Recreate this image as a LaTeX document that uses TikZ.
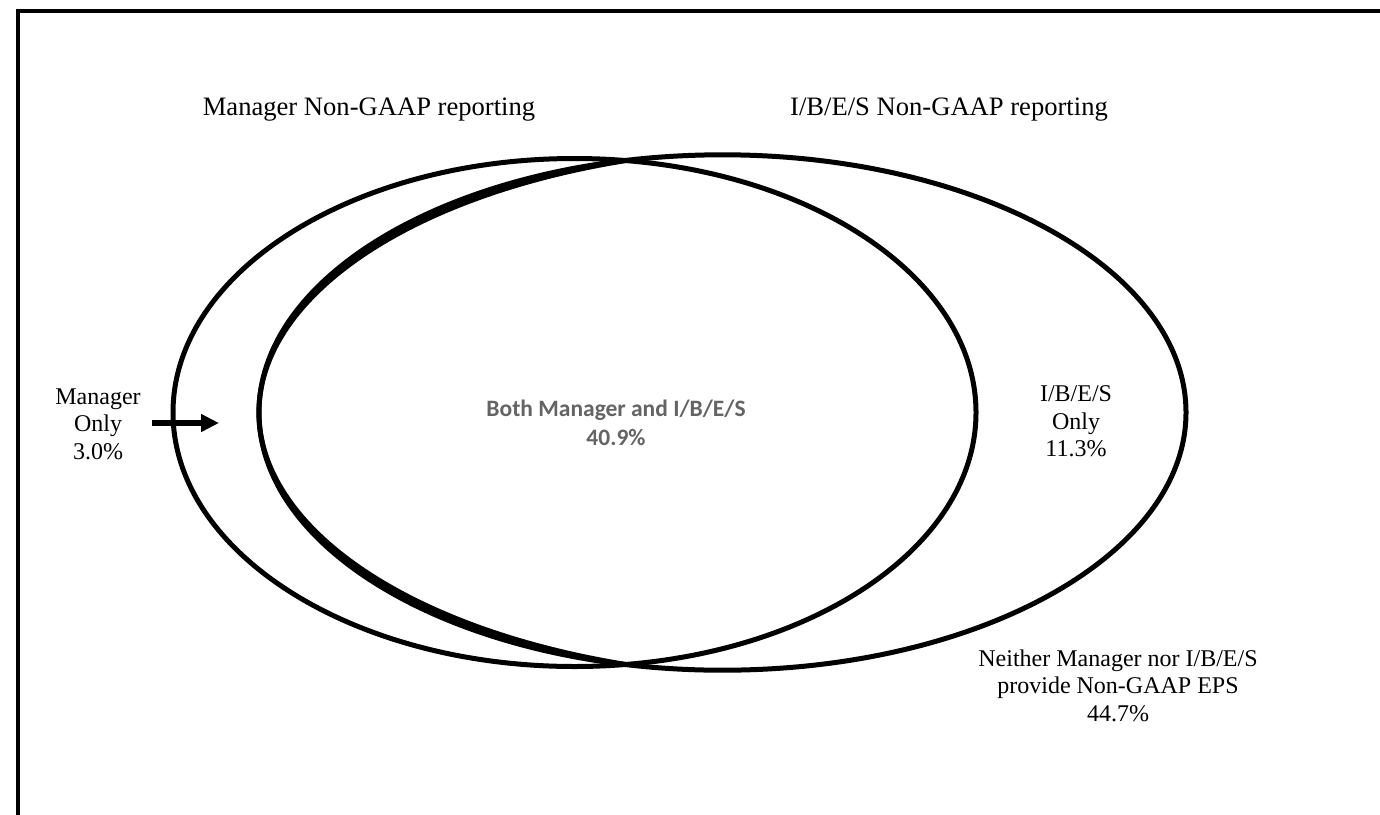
\documentclass[tikz,border=0pt]{standalone}
\usepackage{fontspec}
\setmainfont{Liberation Serif}
\newfontfamily\calibfont{Carlito}
\usetikzlibrary{arrows.meta}
\definecolor{bothgray}{RGB}{100,100,100}
\tikzset{
  frameline/.style={line width=4pt, line join=miter, black},
  ring/.style={line width=5pt, black},
  titletext/.style={font={\fontsize{26.6}{32}\selectfont}, inner sep=0pt},
  labeltext/.style={font={\fontsize{24}{27.6}\selectfont}, align=center, inner sep=0pt},
  bothtext/.style={font={\calibfont\bfseries\fontsize{23.5}{29}\selectfont}, text=bothgray, align=center, inner sep=0pt},
  pointer/.style={line width=5.5pt, -{Triangle[length=18pt,width=17pt]}}
}
\begin{document}
\begin{tikzpicture}[x=1pt, y=-1pt]
\useasboundingbox (0,0) rectangle (1380,814);
\fill[white] (0,0) rectangle (1380,814);
% frame (top and left only)
\draw[frameline] (1382,11) -- (18,11) -- (18,816);
% Manager ellipse
\draw[ring] (574.5,412.5) ellipse [x radius=401.5pt, y radius=254pt];
% I/B/E/S ellipse
\draw[ring] (722.5,412.5) ellipse [x radius=463.5pt, y radius=257.7pt];
% doubled left side of the I/B/E/S ellipse
\draw[ring, line cap=round] ([shift={(108.1:531pt and 265pt)}]790,412.5) arc[start angle=108.1, end angle=251.9, x radius=531pt, y radius=265pt];
% titles
\node[titletext, anchor=base] (mgrtitle) at (369,115) {Manager Non-GAAP reporting};
\node[titletext, anchor=base] (ibestitle) at (949,115) {I/B/E/S Non-GAAP reporting};
% region labels
\node[labeltext] (mgronly) at (98,424) {Manager\\Only\\3.0\%};
\node[labeltext] (ibesonly) at (1076,421.5) {I/B/E/S\\Only\\11.3\%};
\node[labeltext] (neither) at (1118,685.5) {Neither Manager nor I/B/E/S\\provide Non-GAAP EPS\\44.7\%};
\node[bothtext] (both) at (616,423) {Both Manager and I/B/E/S\\40.9\%};
% arrow
\coordinate (arrstart) at (152,423);
\coordinate (arrend) at (219,423);
\draw[pointer] (arrstart) -- (arrend);
\end{tikzpicture}
\end{document}
